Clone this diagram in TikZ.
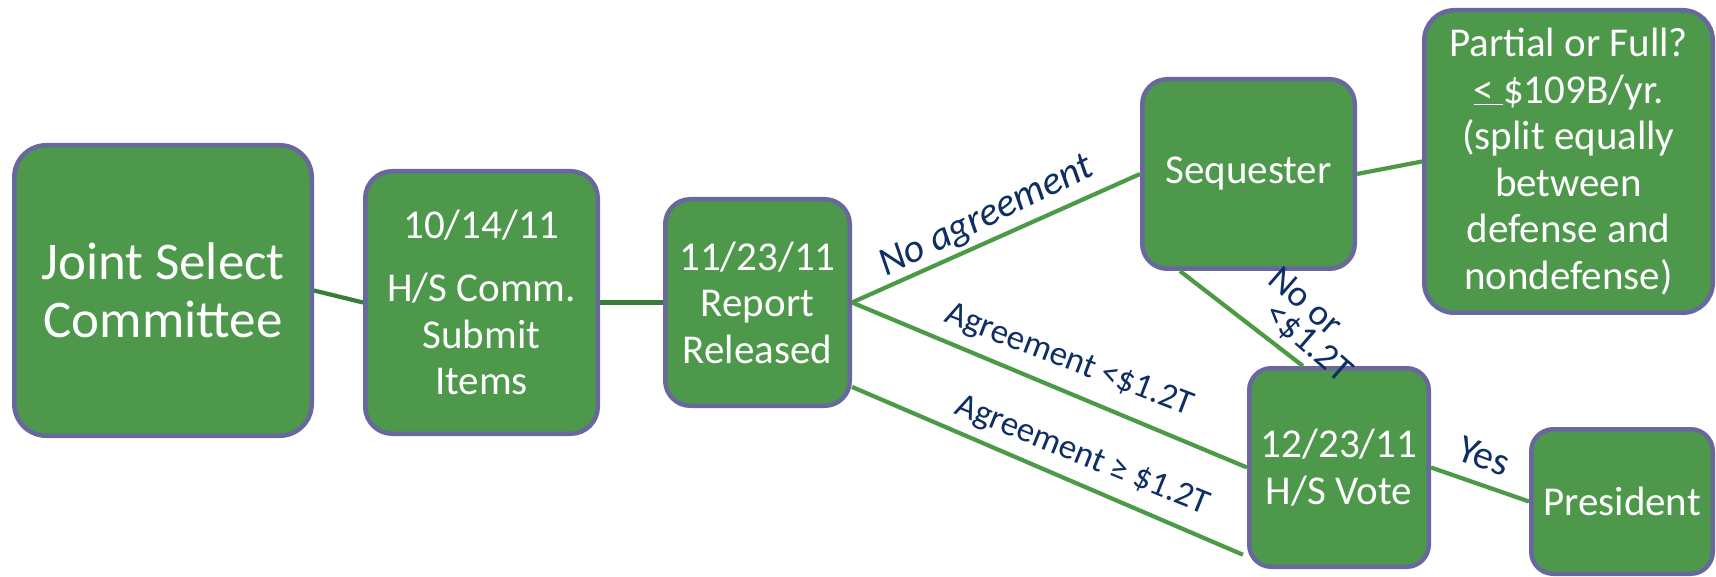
\documentclass[tikz,border=0pt]{standalone}
\usepackage{fontspec}
\setmainfont{Carlito}
\usetikzlibrary{calc}
\definecolor{boxgreen}{RGB}{77,152,74}
\definecolor{boxedge}{RGB}{104,104,158}
\definecolor{linkgreen}{RGB}{76,154,70}
\definecolor{linkdark}{RGB}{58,124,58}
\definecolor{navy}{RGB}{14,46,100}
\newcommand\bigtxt{\fontsize{53}{58}\selectfont}
\newcommand\boxtxt{\fontsize{41}{46.5}\selectfont}
\newcommand\lbltxt{\fontsize{35}{41}\selectfont}
\newcommand\lblbig{\fontsize{40}{46}\selectfont}
\newcommand\lblmid{\fontsize{37}{43}\selectfont}
\begin{document}
\begin{tikzpicture}[x=1pt,y=-1pt,
  box/.style={draw=boxedge, line width=4.5pt, fill=boxgreen, text=white,
    align=center, inner sep=0pt, rounded corners=#1, font=\boxtxt},
  box/.default=25pt,
  link/.style={draw=linkgreen, line width=4.2pt},
  linkdk/.style={draw=linkdark, line width=4.2pt},
  lbl/.style={text=navy, inner sep=0pt, font=\lbltxt}]
\fill[white] (0,0) rectangle (1716,577);
\useasboundingbox (0,0) rectangle (1716,577);

% boxes
\node[box=32pt, minimum width=297.5pt, minimum height=290.5pt, font=\bigtxt]
  (joint) at (163,290.5) {Joint Select\\Committee};
\node[box=27pt, minimum width=232.5pt, minimum height=262.5pt]
  (hs) at (481.5,302.5) {10/14/11\\[17pt]H/S Comm.\\Submit\\Items};
\node[box=25pt, minimum width=184.5pt, minimum height=206.5pt]
  (rep) at (757.5,302.5) {11/23/11\\Report\\Released};
\node[box=25pt, minimum width=212.5pt, minimum height=189.5pt]
  (seq) at (1248.5,174) {Sequester};
\node[box=30pt, minimum width=288.5pt, minimum height=302.5pt]
  (part) at (1568.5,161.5) {Partial or Full?\\\underline{<\ }\$109B/yr.\\(split equally\\between\\defense and\\nondefense)};
\node[box=22pt, minimum width=179.5pt, minimum height=198.5pt]
  (vote) at (1339,467.5) {12/23/11\\H/S Vote};
\node[box=22pt, minimum width=181.5pt, minimum height=144.5pt]
  (pres) at (1622,501.5) {President};

% connectors
\draw[linkdk] (joint.east) -- (hs.west);
\draw[linkdk] (hs.east) -- (rep.west);
\draw[link] (rep.east) -- (seq.west);
\draw[link] (rep.east) -- (vote.west);
\draw[link] ($(rep.south east)!0.1!(rep.north east)$) -- ($(vote.south west)!0.07!(vote.north west)+(-4,0)$);
\draw[link] (seq.east) -- (part.west);
\draw[link] ($(seq.south west)!0.184!(seq.south east)$) -- ($(vote.north west)!0.304!(vote.north east)$);
\draw[link] (vote.east) -- (pres.west);

% labels
\node[lbl, rotate=26, font={\lblbig\itshape}] (lna) at (987,217) {No agreement};
\node[lbl, rotate=-21] (llt) at (1069,361) {Agreement <\$1.2T};
\node[lbl, rotate=-22] (lge) at (1082,456) {Agreement ≥ \$1.2T};
\node[lbl, rotate=-20, font=\lblbig] (lyes) at (1484,456) {Yes};
\node[lbl, rotate=-41, font=\lblmid] (lno1) at (1306,301) {No or};
\node[lbl, rotate=-41, font=\lblmid] (lno2) at (1308,343) {<\$1.2T};
\end{tikzpicture}
\end{document}
